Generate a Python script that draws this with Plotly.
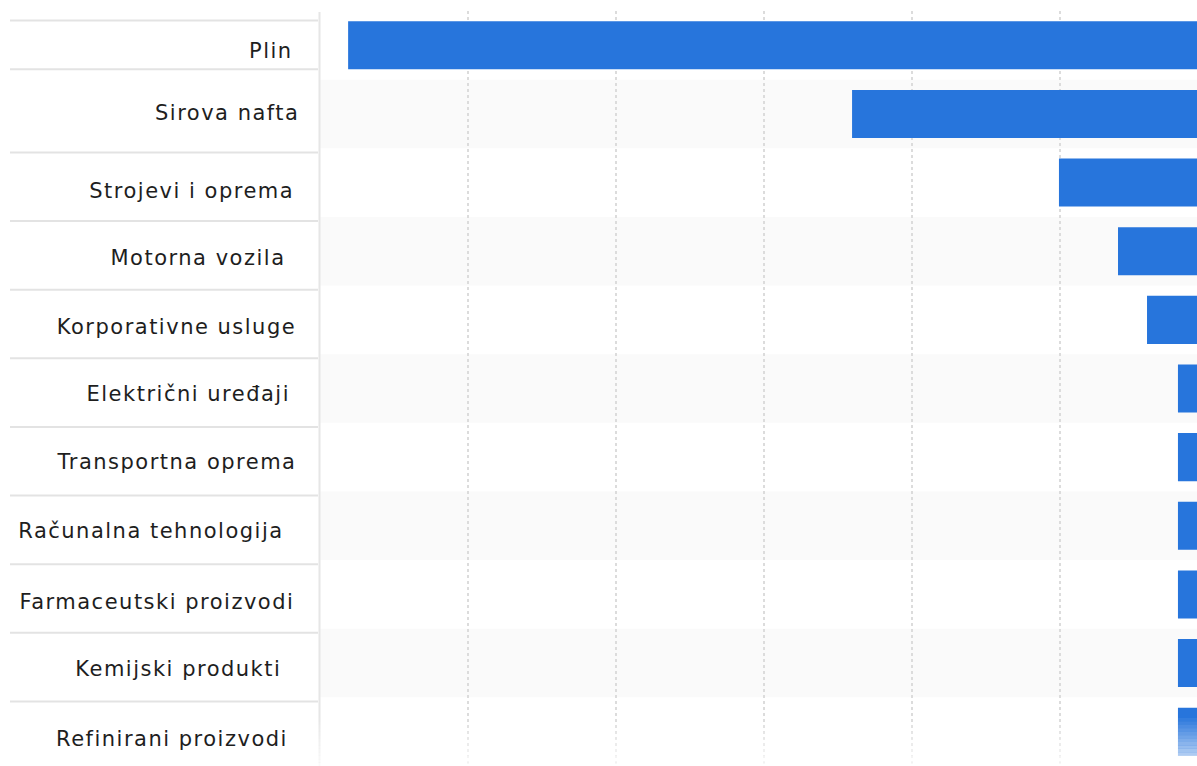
import plotly.graph_objects as go

categories = ["Plin", "Sirova nafta", "Strojevi i oprema", "Motorna vozila",
              "Korporativne usluge", "Električni uređaji", "Transportna oprema",
              "Računalna tehnologija", "Farmaceutski proizvodi", "Kemijski produkti",
              "Refinirani proizvodi"]
values = [58.1, 24.05, 10.07, 6.08, 4.12, 2.03, 2.03, 2.03, 2.03, 2.03, 2.03]

# styling (pixel nudges of the label text)
label_xshift = [8, 8, -1, -7, 0, -5, 1, -14, -4, -13, -9]
label_ydown = [2, -5, 4, 3, 3, 1, 1, 1, 4, 2, 3]

W, H = 1197, 766
ML, MR, MT, MB = 320, 0, 11, 0
PW, PH = W - ML - MR, H - MT - MB

BAR = "#2775DC"

fig = go.Figure()
fig.add_trace(go.Bar(
    x=values, y=categories, orientation="h", base=0,
    marker=dict(color=BAR, line=dict(width=0)), width=0.7,
    hoverinfo="skip", showlegend=False,
))

shapes = []
# alternating row stripes
for i in range(len(categories)):
    if i % 2 == 1:
        shapes.append(dict(type="rect", xref="paper", yref="y", x0=0, x1=1,
                           y0=i - 0.5, y1=i + 0.5, fillcolor="#fafafa",
                           line=dict(width=0), layer="below"))

px2paper = lambda px: (px - ML) / PW
# separator lines in label panel
seps = [-0.36, 0.35] + [i + 0.56 for i in range(1, 10)]
for s in seps:
    shapes.append(dict(type="line", xref="paper", yref="y",
                       x0=px2paper(10), x1=px2paper(318), y0=s, y1=s,
                       line=dict(color="#e3e3e3", width=2)))

# vertical separator between labels and plot
shapes.append(dict(type="line", xref="paper", yref="paper", x0=px2paper(319.5),
                   x1=px2paper(319.5), y0=0, y1=(H - 12 - MB) / PH,
                   line=dict(color="#e6e6e6", width=2)))

# bottom fade to white
n = 14
top_px, bot_px = 718, 766
for k in range(n):
    y_top = top_px + (bot_px - top_px) * k / n
    y_bot = top_px + (bot_px - top_px) * (k + 1) / n
    shapes.append(dict(type="rect", xref="paper", yref="paper",
                       x0=px2paper(0), x1=1,
                       y0=(H - MB - y_bot) / PH, y1=(H - MB - y_top) / PH,
                       fillcolor="white", opacity=0.8 * (k + 1) / n,
                       line=dict(width=0), layer="above"))

annotations = []
for i, (c, dx, dy) in enumerate(zip(categories, label_xshift, label_ydown)):
    annotations.append(dict(text=c, xref="paper", yref="y", x=px2paper(284),
                            y=i, xanchor="right", yanchor="middle",
                            xshift=dx, yshift=-4 - dy, showarrow=False,
                            font=dict(family="DejaVu Sans", size=21,
                                      color="#1e1e1e")))

fig.update_layout(
    width=W, height=H,
    margin=dict(l=ML, r=MR, t=MT, b=MB),
    paper_bgcolor="white", plot_bgcolor="white",
    bargap=0.3,
    shapes=shapes, annotations=annotations,
    xaxis=dict(range=[60, 0.743], dtick=10, tick0=0, showgrid=True,
               gridcolor="#dcdcdc", griddash="dot", gridwidth=1.5,
               zeroline=False, showticklabels=False, showline=False, ticks=""),
    yaxis=dict(autorange="reversed", showticklabels=False, showgrid=False,
               zeroline=False, showline=False, ticks=""),
)

post = (
    "document.body.style.margin='0';document.body.style.overflow='hidden';"
    "var st=document.createElement('style');"
    "st.textContent='.annotation-text{letter-spacing:1.5px;}';"
    "document.head.appendChild(st);"
    "var gd=document.getElementById('{plot_id}');"
    "Plotly.relayout(gd,{width:1197,height:766});"
)

fig.write_html("out.html", config={"responsive": False, "displayModeBar": False},
               post_script=post)
